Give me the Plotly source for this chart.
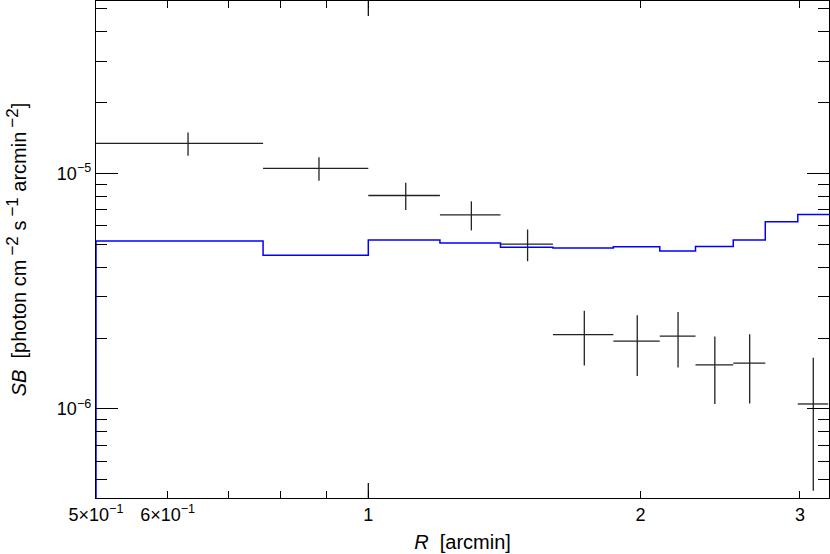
import math
import plotly.graph_objects as go

# ---- data ----
r_center = [0.632, 0.882, 1.10, 1.30, 1.50, 1.733, 1.983, 2.20, 2.416, 2.64, 3.104]
r_lo = [0.499, 0.765, 1.00, 1.20, 1.40, 1.60, 1.866, 2.10, 2.30, 2.532, 2.984]
r_hi = [0.765, 1.00, 1.20, 1.40, 1.60, 1.866, 2.10, 2.30, 2.532, 2.747, 3.224]
sb = [1.341e-5, 1.050e-5, 8.06e-6, 6.67e-6, 5.01e-6, 2.07e-6, 1.94e-6, 2.04e-6, 1.54e-6, 1.565e-6, 1.05e-6]
sb_err = [1.52e-6, 1.20e-6, 1.06e-6, 0.94e-6, 0.77e-6, 0.54e-6, 0.56e-6, 0.54e-6, 0.49e-6, 0.51e-6, 0.60e-6]

model_edges = [0.5, 0.765, 1.0, 1.2, 1.4, 1.6, 1.866, 2.1, 2.3, 2.532, 2.747, 2.984, 3.26]
model_sb = [5.17e-6, 4.49e-6, 5.21e-6, 5.06e-6, 4.86e-6, 4.82e-6, 4.88e-6, 4.68e-6, 4.90e-6, 5.22e-6, 6.23e-6, 6.70e-6]
model_floor = 1e-8

x_tickvals = [0.5, 0.6, 1, 2, 3]
x_ticktext = ["5×10<sup>−1</sup>", "6×10<sup>−1</sup>", "1", "2", "3"]
x_minor = [0.7, 0.8, 0.9]
y_tickvals = [1e-6, 1e-5]
y_ticktext = ["10<sup>−6</sup>", "10<sup>−5</sup>"]
y_minor = [5e-7, 6e-7, 7e-7, 8e-7, 9e-7, 2e-6, 3e-6, 4e-6, 5e-6, 6e-6, 7e-6, 8e-6, 9e-6,
           2e-5, 3e-5, 4e-5, 5e-5]

x_range = [math.log10(0.5), 0.5093]
y_range = [-6.378, -4.268]

FONT = "Liberation Sans, Arial, Helvetica, sans-serif"
TICK_SIZE = 18
TITLE_SIZE = 20


def sup(s):
    return "\u2009<sup><span style='font-size:17px'>" + s + "</span></sup>"


y_title = ("<i>SB</i>  [photon cm" + sup("−2") + " s" + sup("−1") + " arcmin" + sup("−2") + "]")

fig = go.Figure()

# model step line
fig.add_trace(go.Scatter(
    x=[model_edges[0]] + model_edges,
    y=[model_floor] + model_sb + [model_sb[-1]],
    mode="lines", line=dict(color="#0000ff", width=1.5, shape="hv"),
    hoverinfo="skip", showlegend=False,
))

# data crosses
fig.add_trace(go.Scatter(
    x=r_center, y=sb, mode="markers",
    marker=dict(size=1, color="rgba(0,0,0,0)"),
    error_x=dict(type="data", symmetric=False,
                 array=[h - c for h, c in zip(r_hi, r_center)],
                 arrayminus=[c - l for c, l in zip(r_center, r_lo)],
                 color="#222222", thickness=1.3, width=0),
    error_y=dict(type="data", array=sb_err, color="#222222", thickness=1.3, width=0),
    showlegend=False,
))

axis_common = dict(
    showline=True, linecolor="black", linewidth=1.3, mirror="allticks",
    ticks="inside", tickcolor="black", tickwidth=1.2,
    showgrid=False, zeroline=False,
    tickfont=dict(family=FONT, size=TICK_SIZE, color="black"),
)

fig.update_xaxes(
    type="log", range=x_range,
    tickmode="array", tickvals=x_tickvals, ticktext=x_ticktext, ticklen=7,
    minor=dict(tickvals=x_minor, ticks="inside", ticklen=7, tickcolor="black", tickwidth=1.2, showgrid=False),
    title=dict(text="<i>R</i>  [arcmin]", font=dict(family=FONT, size=TITLE_SIZE, color="black"), standoff=11),
    **axis_common,
)
fig.update_yaxes(
    type="log", range=y_range,
    tickmode="array", tickvals=y_tickvals, ticktext=y_ticktext, ticklen=22,
    minor=dict(tickvals=y_minor, ticks="inside", ticklen=11, tickcolor="black", tickwidth=1.2, showgrid=False),
    title=dict(text=y_title, font=dict(family=FONT, size=TITLE_SIZE, color="black"), standoff=24),
    **axis_common,
)

# longer major tick at x = 1 (bottom and top), in paper coordinates from the range
x1_frac = (math.log10(1) - x_range[0]) / (x_range[1] - x_range[0])
plot_h = 554 - 1 - 56
for y0, y1 in [(0, 15 / plot_h), (1, 1 - 15 / plot_h)]:
    fig.add_shape(type="line", xref="paper", yref="paper", x0=x1_frac, x1=x1_frac, y0=y0, y1=y1,
                  line=dict(color="black", width=1.2))

fig.update_layout(
    width=830, height=554,
    margin=dict(l=96, r=1, t=1, b=56),
    paper_bgcolor="white", plot_bgcolor="white",
    font=dict(family=FONT, size=TICK_SIZE, color="black"),
    showlegend=False,
)

fig.write_html("out.html", config={"displayModeBar": False},
               post_script="document.body.style.margin='0';document.body.style.overflow='hidden';")
